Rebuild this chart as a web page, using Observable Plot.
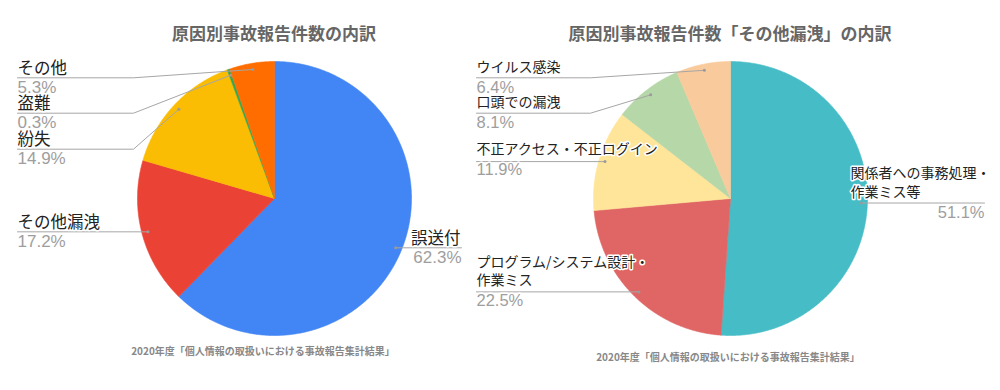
<!DOCTYPE html>
<html><head><meta charset="utf-8">
<script src="https://cdn.jsdelivr.net/npm/d3@7"></script>
<script src="https://cdn.jsdelivr.net/npm/@observablehq/plot@0.6"></script>
<style>
html,body{margin:0;padding:0;background:#fff;}
body{font-family:"Noto Sans CJK JP","Noto Sans",sans-serif;}
#wrap{display:flex;width:1000px;height:390px;overflow:hidden;}
.panel{height:390px;flex:none;}
.title{height:27px;padding-top:23px;line-height:20px;font-size:17px;font-weight:bold;color:#666;text-align:center;white-space:nowrap;}
.cap{font-size:10px;line-height:12px;font-weight:bold;color:#888;text-align:center;white-space:nowrap;}
svg{display:block;overflow:visible;}
</style></head><body><div id="wrap"></div>
<script>
// ---------- data ----------
const leftTitle = "原因別事故報告件数の内訳";
const leftCategories = ["誤送付", "その他漏洩", "紛失", "盗難", "その他"];
const leftValues = [62.3, 17.2, 14.9, 0.3, 5.3];
const leftColors = ["#4285F4", "#EA4335", "#FBBC04", "#34A853", "#FF6D01"];

const rightTitle = "原因別事故報告件数「その他漏洩」の内訳";
const rightCategories = ["関係者への事務処理・\n作業ミス等", "プログラム/システム設計・\n作業ミス", "不正アクセス・不正ログイン", "口頭での漏洩", "ウイルス感染"];
const rightValues = [51.1, 22.5, 11.9, 8.1, 6.4];
const rightColors = ["#46BDC6", "#E06666", "#FFE599", "#B6D7A8", "#F9CB9C"];

const sourceNote = "2020年度「個人情報の取扱いにおける事故報告集計結果」";

// ---------- layout (page pixels) ----------
const SVG_TOP = 50, SVG_H = 292;
const leftLayout = {panelX: 0, width: 468, cx: 274, cy: 198, r: 137, nameSize: 16.5, pctSize: 17, nameLift: 9.5, lineGap: 18,
  titlePad: "0 0 0 80px", capPad: "3px 0 0 58px"};
const leftLabelPos = [
  {lineY: 247.3, lineX: 461, elbowX: null, nameX: 460, nameAnchor: "end", pctX: 461, pctAnchor: "end"},
  {lineY: 231.7, lineX: 17, elbowX: null, nameX: 17, nameAnchor: "start", pctX: 17, pctAnchor: "start"},
  {lineY: 148.7, lineX: 17, elbowX: 133, nameX: 17, nameAnchor: "start", pctX: 17, pctAnchor: "start"},
  {lineY: 112.7, lineX: 17, elbowX: 133, nameX: 17, nameAnchor: "start", pctX: 17, pctAnchor: "start"},
  {lineY: 77.3, lineX: 17, elbowX: 133, nameX: 17, nameAnchor: "start", pctX: 17, pctAnchor: "start"}
];
const rightLayout = {panelX: 468, width: 532, cx: 730, cy: 198, r: 137, nameSize: 14, pctSize: 16.5, nameLift: 10.5, lineGap: 18.5,
  titlePad: "0 8px 0 0", capPad: "9px 12px 0 0"};
const rightLabelPos = [
  {lineY: 202.3, lineX: 984, elbowX: null, nameX: 850, nameAnchor: "start", pctX: 984, pctAnchor: "end"},
  {lineY: 290.7, lineX: 476, elbowX: null, nameX: 476, nameAnchor: "start", pctX: 476, pctAnchor: "start"},
  {lineY: 160, lineX: 476, elbowX: null, nameX: 476, nameAnchor: "start", pctX: 476, pctAnchor: "start"},
  {lineY: 112.7, lineX: 476, elbowX: 590, nameX: 476, nameAnchor: "start", pctX: 476, pctAnchor: "start"},
  {lineY: 77.3, lineX: 476, elbowX: 590, nameX: 476, nameAnchor: "start", pctX: 476, pctAnchor: "start"}
];

const CJK = '"Noto Sans CJK JP", "Noto Sans", sans-serif';
const NUM = '"Liberation Sans", Arial, sans-serif';

function pieChart(categories, values, colors, L, pos) {
  const {cx, cy, r, panelX, width, nameSize, pctSize, nameLift, lineGap} = L;
  const total = d3.sum(values);
  const X = px => (px - cx) / r;
  const Y = py => (cy - py) / r;
  const slices = [], anchors = [];
  let acc = 0;
  values.forEach((v, i) => {
    const a0 = acc / total * 2 * Math.PI; acc += v;
    const a1 = acc / total * 2 * Math.PI;
    const n = Math.max(2, Math.ceil((a1 - a0) / (Math.PI / 360)));
    slices.push({k: i, x: 0, y: 0, c: colors[i]});
    for (let j = 0; j <= n; j++) {
      const a = a0 + (a1 - a0) * j / n;
      slices.push({k: i, x: Math.sin(a), y: Math.cos(a), c: colors[i]});
    }
    slices.push({k: i, x: 0, y: 0, c: colors[i]});
    const am = (a0 + a1) / 2;
    anchors.push({x: 0.955 * Math.sin(am), y: 0.955 * Math.cos(am)});
  });
  const leaders = [];
  pos.forEach((p, i) => {
    const a = anchors[i];
    if (p.elbowX == null) {
      leaders.push({k: i, x: X(p.lineX), y: a.y}, {k: i, x: a.x, y: a.y});
    } else {
      leaders.push({k: i, x: X(p.lineX), y: Y(p.lineY)}, {k: i, x: X(p.elbowX), y: Y(p.lineY)}, {k: i, x: a.x, y: a.y});
    }
  });
  const names = [], pcts = [];
  pos.forEach((p, i) => {
    const lines = categories[i].split("\n");
    const n = lines.length;
    lines.forEach((t, j) => names.push({x: X(p.nameX), y: Y(p.lineY - nameLift - (n - 1 - j) * lineGap), t, anchor: p.nameAnchor}));
    pcts.push({x: X(p.pctX), y: Y(p.lineY + 9.5), t: values[i].toFixed(1) + "%", anchor: p.pctAnchor});
  });
  const textMarks = [];
  for (const anchor of ["start", "end"]) {
    textMarks.push(Plot.text(names.filter(d => d.anchor === anchor), {x: "x", y: "y", text: "t", textAnchor: anchor, lineAnchor: "middle",
      fontSize: nameSize, fontFamily: CJK, fill: "#222", stroke: "white", strokeWidth: 3}));
    textMarks.push(Plot.text(pcts.filter(d => d.anchor === anchor), {x: "x", y: "y", text: "t", textAnchor: anchor, lineAnchor: "middle",
      fontSize: pctSize, fontFamily: NUM, fill: "#9e9e9e", stroke: "white", strokeWidth: 3}));
  }
  return Plot.plot({
    width, height: SVG_H, margin: 0,
    x: {domain: [-1, 1], range: [cx - panelX - r, cx - panelX + r], axis: null},
    y: {domain: [-1, 1], range: [cy - SVG_TOP + r, cy - SVG_TOP - r], axis: null},
    color: {type: "identity"},
    style: {background: "transparent", fontFamily: CJK, overflow: "visible"},
    marks: [
      Plot.line(slices, {x: "x", y: "y", z: "k", fill: "c", stroke: "c", strokeWidth: 0.6, curve: "linear"}),
      Plot.line(leaders, {x: "x", y: "y", z: "k", stroke: "#a6a6a6", strokeWidth: 1, curve: "linear"}),
      Plot.dot(anchors, {x: "x", y: "y", r: 1.5, fill: "#9a9a9a", stroke: null}),
      ...textMarks
    ]
  });
}

function panel(title, chart, L) {
  const div = document.createElement("div");
  div.className = "panel";
  div.style.width = L.width + "px";
  const t = document.createElement("div");
  t.className = "title"; t.textContent = title;
  t.style.paddingLeft = L.titlePad.split(" ")[3];
  t.style.paddingRight = L.titlePad.split(" ")[1];
  div.appendChild(t);
  div.appendChild(chart);
  const c = document.createElement("div");
  c.className = "cap"; c.textContent = sourceNote;
  const cp = L.capPad.split(" ");
  c.style.paddingTop = cp[0]; c.style.paddingRight = cp[1]; c.style.paddingLeft = cp[3];
  div.appendChild(c);
  return div;
}

const wrap = document.getElementById("wrap");
wrap.appendChild(panel(leftTitle, pieChart(leftCategories, leftValues, leftColors, leftLayout, leftLabelPos), leftLayout));
wrap.appendChild(panel(rightTitle, pieChart(rightCategories, rightValues, rightColors, rightLayout, rightLabelPos), rightLayout));
</script>
</body></html>
